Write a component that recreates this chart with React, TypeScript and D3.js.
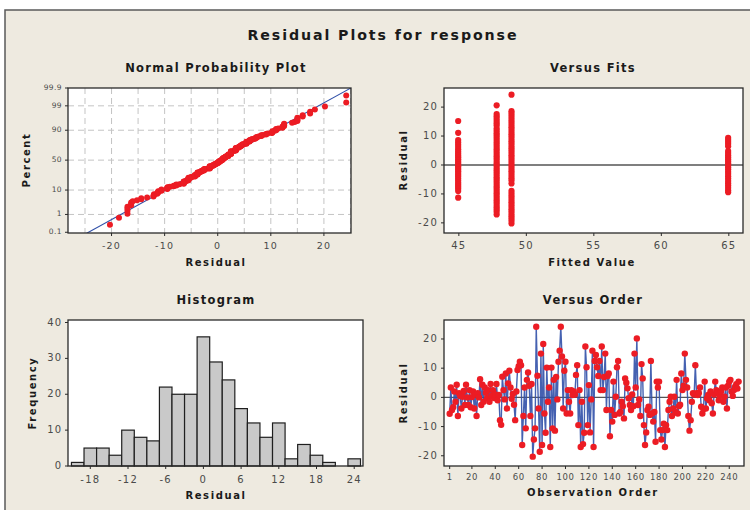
import React from "react";
import * as d3 from "d3";

// Residuals in observation order
const residuals: number[] = [
  -5.6, 3.4, -4.3, -3.4, 2.0, -1.5, 4.3, -6.4, 1.4, 0.5,
  -3.8, 0.2, 2.2, -2.6, 4.3, 0.0, -2.6, 2.5, -3.4, 0.1,
  2.0, -3.8, 1.0, -6.4, 1.4, 0.0, 6.2, -2.6, 4.3, -1.5,
  3.4, 1.6, -0.3, 2.5, -1.5, 4.6, 0.5, 2.5, -0.2, 1.0,
  4.6, -1.0, 0.8, -7.8, -9.4, 7.1,
  2.5, -0.7, 8.2, -3.8, 4.8, 9.1, 3.4, -0.5, 1.2, -2.5,
  -7.8, 2.0, 9.4, 10.7, 12.2, 11.0, -16.3, -6.4, 3.4, -10.6,
  6.0, 8.5, 4.0, -6.4, 4.6, -20.3, -14.4, -10.6, 24.2,
  7.4, -3.8, -18.6, 15.0, -16.3, 18.3, -5.5, -12.1, 10.2, -1.5,
  3.4, -17.0, 10.2, -10.6, 6.0, -11.4, 7.0, -0.7, 12.2, 16.0,
  24.2, 14.0, -3.8, 9.1, 12.2, -5.5, 2.5, -1.5, -5.5, 2.5,
  0.8, 2.0, 1.0, 7.7, 11.0, -9.5, 2.5, -17.0, -1.5, -16.0,
  -12.1, 17.4, 10.3, -9.5, 4.2, -12.0, -0.7, 16.0, -17.0, 12.5,
  14.5, 10.3, 7.3, 12.5, 2.5, 17.4, 2.5, 7.0, 15.0, -4.3,
  7.3, 8.2, -13.3, -4.3, -8.3,
  5.4, -6.0, 0.2, 10.3, 12.5, -5.5, -5.0, -1.5, -3.0, -7.2,
  6.5, 5.0, 3.1, -0.3, -2.6, -4.3, 1.0, -3.0, 15.0, 3.4,
  20.2, -2.6, -0.7, -6.4, 11.4, 6.5, -9.5, -16.3, -12.0, -4.3,
  -3.2, -6.0, 12.5, -5.5, -8.3, -5.0, -15.2, 5.4, 3.4, 5.4,
  -11.2, -14.4, -11.2, -9.0, -17.0, -9.5, -11.2, -4.3, -1.5, 0.2,
  -6.4, -3.8, 0.2, -5.0, 6.0, -5.5, -3.0, -2.5, 8.2, 2.5,
  4.0, 15.0, 6.0, 3.4, -6.4, -11.4, -7.8, -1.5, 1.4, 1.0,
  11.0, 1.4, 0.8, 1.5, 3.4, -3.2, -5.5, -4.0, 5.4, -3.8,
  -0.3, 0.8, -1.0, 2.0, -2.0, -5.5, 1.0, 5.4, 2.5, 1.6,
  -1.0, 0.5, 2.0, 3.4, -1.5, 0.2, 3.4, -3.8, 4.0, 5.4,
  6.0, 2.0, 0.5, 2.5, 3.7, 4.5, 3.0, 5.4,
];

// Residuals grouped by fitted value
const fittedValues = [44.95, 47.8, 48.9, 64.95];
const residAtFit1 = [
  15.2, 11.1, 8.6, 7.8, 7.0, 6.2, 5.4, 4.7, 4.0, 3.3, 2.7, 2.0, 1.4, 0.8, 0.2,
  -0.4, -1.0, -1.6, -2.2, -2.8, -3.4, -4.0, -4.7, -5.4, -6.1, -6.8, -7.5, -8.2, -9.0, -11.3,
];
const residAtFit2 = [
  20.6, 17.6, 16.8, 16.0, 15.2, 14.4, 13.6, 12.6, 11.8, 11.0, 10.2, 9.4, 8.6, 7.8, 7.0,
  6.2, 5.4, 4.6, 3.8, 3.0, 2.2, 1.4, 0.6, -0.2, -1.0, -1.8, -2.6, -3.4, -4.2, -5.0,
  -5.8, -6.6, -7.4, -8.2, -9.0, -9.8, -10.6, -11.4, -12.2, -13.0, -13.8, -14.6, -15.4, -16.2, -17.1,
];
const residAtFit3 = [
  24.3, 18.6, 17.8, 17.0, 16.2, 15.4, 14.6, 13.8, 13.0, 12.2, 11.4, 10.6, 9.8, 9.0, 8.2,
  7.4, 6.6, 5.8, 5.0, 4.2, 3.4, 2.6, 1.8, 1.0, 0.2, -0.6, -1.4, -2.2, -3.0, -3.8,
  -4.6, -5.4, -6.4, -8.9, -9.7, -10.5, -11.3, -12.1, -12.9, -13.7, -14.5, -15.3, -16.1, -16.9, -17.7,
  -18.5, -19.3, -20.2,
];
const residAtFit4 = [
  9.4, 8.7, 8.0, 7.3, 6.5, 4.8, 4.1, 3.4, 2.7, 2.0, 1.3, 0.6, -0.1, -0.8, -1.5,
  -2.3, -3.1, -3.9, -4.7, -5.5, -6.3, -7.1, -7.9, -8.7, -9.4,
];
const residAtFit = [residAtFit1, residAtFit2, residAtFit3, residAtFit4];

// Histogram of residuals: bin midpoints (width 2) and counts
const binMids = [-20, -18, -16, -14, -12, -10, -8, -6, -4, -2, 0, 2, 4, 6, 8, 10, 12, 14, 16, 18, 20, 22, 24];
const binCounts = [1, 5, 5, 3, 10, 8, 7, 22, 20, 20, 36, 29, 24, 16, 12, 8, 12, 2, 6, 3, 1, 0, 2];

// Axis ticks
const probPercentTicks = [0.1, 1, 10, 50, 90, 99, 99.9];
const probPercentGrid = [1, 10, 50, 90, 99];
const probResidTicks = [-20, -10, 0, 10, 20];
const probResidGrid = [-25, -20, -15, -10, -5, 0, 5, 10, 15, 20, 25];
const residTicks = [-20, -10, 0, 10, 20];
const fitTicks = [45, 50, 55, 60, 65];
const histXTicks = [-18, -12, -6, 0, 6, 12, 18, 24];
const histYTicks = [0, 10, 20, 30, 40];
const orderTicks = [1, 20, 40, 60, 80, 100, 120, 140, 160, 180, 200, 220, 240];

// Inverse standard normal CDF (Acklam's rational approximation)
function normInv(p: number): number {
  const a = [-39.69683028665376, 220.9460984245205, -275.9285104469687, 138.357751867269, -30.66479806614716, 2.506628277459239];
  const b = [-54.47609879822406, 161.5858368580409, -155.6989798598866, 66.80131188771972, -13.28068155288572];
  const c = [-0.007784894002430293, -0.3223964580411365, -2.400758277161838, -2.549732539343734, 4.374664141464968, 2.938163982698783];
  const d = [0.007784695709041462, 0.3224671290700398, 2.445134137142996, 3.754408661907416];
  const pl = 0.02425;
  if (p < pl) {
    const q = Math.sqrt(-2 * Math.log(p));
    return (((((c[0] * q + c[1]) * q + c[2]) * q + c[3]) * q + c[4]) * q + c[5]) / ((((d[0] * q + d[1]) * q + d[2]) * q + d[3]) * q + 1);
  }
  if (p > 1 - pl) {
    const q = Math.sqrt(-2 * Math.log(1 - p));
    return -(((((c[0] * q + c[1]) * q + c[2]) * q + c[3]) * q + c[4]) * q + c[5]) / ((((d[0] * q + d[1]) * q + d[2]) * q + d[3]) * q + 1);
  }
  const q = p - 0.5;
  const r = q * q;
  return ((((((a[0] * r + a[1]) * r + a[2]) * r + a[3]) * r + a[4]) * r + a[5]) * q) / (((((b[0] * r + b[1]) * r + b[2]) * r + b[3]) * r + b[4]) * r + 1);
}

const FONT = "'DejaVu Sans', Verdana, sans-serif";
const RED = "#EC1C24";
const BLUE = "#3150A8";
const TICK_COLOR = "#4a4a4a";
const FRAME = "#2a2a2a";
const BG = "#EEEAE0";

type Rect = { x0: number; x1: number; y0: number; y1: number };

const P1: Rect = { x0: 68, x1: 351, y0: 88, y1: 233 };
const P2: Rect = { x0: 444, x1: 743, y0: 88, y1: 233 };
const P3: Rect = { x0: 68, x1: 363, y0: 320, y1: 466 };
const P4: Rect = { x0: 444, x1: 744, y0: 320, y1: 466 };

function PanelTitle({ x, y, text }: { x: number; y: number; text: string }) {
  return (
    <text x={x} y={y} textAnchor="middle" fontFamily={FONT} fontWeight="bold" fontSize={11.5} letterSpacing={1.3} fill="#1a1a1a">
      {text}
    </text>
  );
}

function AxisLabel({ x, y, text, rotate }: { x: number; y: number; text: string; rotate?: boolean }) {
  return (
    <text
      x={x}
      y={y}
      textAnchor="middle"
      dominantBaseline="middle"
      fontFamily={FONT}
      fontWeight="bold"
      fontSize={10}
      letterSpacing={1.6}
      fill="#1a1a1a"
      transform={rotate ? `rotate(-90 ${x} ${y})` : undefined}
    >
      {text}
    </text>
  );
}

function Frame({ r }: { r: Rect }) {
  return <rect x={r.x0} y={r.y0} width={r.x1 - r.x0} height={r.y1 - r.y0} fill="none" stroke={FRAME} strokeWidth={1.3} />;
}

function BottomTicks({ r, xs, labels, scale, fontSize, dy, spacing }: { r: Rect; xs: number[]; labels: string[]; scale: (v: number) => number; fontSize: number; dy: number; spacing: number }) {
  return (
    <g>
      {xs.map((v, i) => (
        <g key={i}>
          <line x1={scale(v)} x2={scale(v)} y1={r.y1} y2={r.y1 + 3} stroke={FRAME} strokeWidth={1} />
          <text x={scale(v)} y={r.y1 + dy} textAnchor="middle" dominantBaseline="middle" fontFamily={FONT} fontSize={fontSize} letterSpacing={spacing} fill={TICK_COLOR}>
            {labels[i]}
          </text>
        </g>
      ))}
    </g>
  );
}

function LeftTicks({ r, ys, labels, scale, fontSize, spacing }: { r: Rect; ys: number[]; labels: string[]; scale: (v: number) => number; fontSize: number; spacing: number }) {
  return (
    <g>
      {ys.map((v, i) => (
        <g key={i}>
          <line x1={r.x0 - 3} x2={r.x0} y1={scale(v)} y2={scale(v)} stroke={FRAME} strokeWidth={1} />
          <text x={r.x0 - 6} y={scale(v)} textAnchor="end" dominantBaseline="middle" fontFamily={FONT} fontSize={fontSize} letterSpacing={spacing} fill={TICK_COLOR}>
            {labels[i]}
          </text>
        </g>
      ))}
    </g>
  );
}

const fmtSigned = (v: number) => (v < 0 ? `-${Math.abs(v)}` : `${v}`);

function NormalPlot() {
  const r = P1;
  const n = residuals.length;
  const sorted = residuals.slice().sort((a, b) => a - b);
  const zLo = normInv(0.0009);
  const zHi = normInv(0.999);
  const x = d3.scaleLinear().domain([-28.2, 25.1]).range([r.x0, r.x1]);
  const y = d3.scaleLinear().domain([zLo, zHi]).range([r.y1, r.y0]);
  const mean = d3.mean(residuals) as number;
  const sd = d3.deviation(residuals) as number;
  const line = d3.line<number>().x((z) => x(mean + sd * z)).y((z) => y(z));
  return (
    <g>
      <rect x={r.x0} y={r.y0} width={r.x1 - r.x0} height={r.y1 - r.y0} fill="#fff" />
      <defs>
        <clipPath id="clip-prob">
          <rect x={r.x0} y={r.y0} width={r.x1 - r.x0} height={r.y1 - r.y0} />
        </clipPath>
      </defs>
      {probResidGrid.map((v) => (
        <line key={`gx${v}`} x1={x(v)} x2={x(v)} y1={r.y0} y2={r.y1} stroke="#c4c4c4" strokeWidth={1} strokeDasharray="6,4" />
      ))}
      {probPercentGrid.map((p) => (
        <line key={`gy${p}`} x1={r.x0} x2={r.x1} y1={y(normInv(p / 100))} y2={y(normInv(p / 100))} stroke="#c4c4c4" strokeWidth={1} strokeDasharray="6,4" />
      ))}
      <g clipPath="url(#clip-prob)">
        <path d={line([zLo - 0.2, zHi + 0.2]) as string} fill="none" stroke={BLUE} strokeWidth={1.1} />
      </g>
      {sorted.map((v, i) => (
        <circle key={i} cx={x(v)} cy={y(normInv((i + 1 - 0.3) / (n + 0.4)))} r={3} fill={RED} />
      ))}
      <Frame r={r} />
      <BottomTicks r={r} xs={probResidTicks} labels={probResidTicks.map(fmtSigned)} scale={x} fontSize={9.5} dy={13} spacing={1.2} />
      <LeftTicks r={r} ys={probPercentTicks.map((p) => normInv(p / 100))} labels={probPercentTicks.map(String)} scale={y} fontSize={7.5} spacing={0.4} />
      <PanelTitle x={216} y={72} text="Normal Probability Plot" />
      <AxisLabel x={216} y={263} text="Residual" />
      <AxisLabel x={27} y={160} text="Percent" rotate />
    </g>
  );
}

function VersusFits() {
  const r = P2;
  const x = d3.scaleLinear().domain([43.9, 66.05]).range([r.x0, r.x1]);
  const y = d3.scaleLinear().domain([-23.5, 26.6]).range([r.y1, r.y0]);
  return (
    <g>
      <rect x={r.x0} y={r.y0} width={r.x1 - r.x0} height={r.y1 - r.y0} fill="#fff" />
      <line x1={r.x0} x2={r.x1} y1={y(0)} y2={y(0)} stroke="#555" strokeWidth={1.3} />
      {residAtFit.map((col, gi) =>
        col.map((v, i) => <circle key={`${gi}-${i}`} cx={x(fittedValues[gi])} cy={y(v)} r={3.1} fill={RED} />)
      )}
      <Frame r={r} />
      <BottomTicks r={r} xs={fitTicks} labels={fitTicks.map(String)} scale={x} fontSize={10} dy={13} spacing={1.2} />
      <LeftTicks r={r} ys={residTicks} labels={residTicks.map(fmtSigned)} scale={y} fontSize={10} spacing={1.2} />
      <PanelTitle x={593} y={72} text="Versus Fits" />
      <AxisLabel x={592} y={263} text="Fitted Value" />
      <AxisLabel x={404} y={160} text="Residual" rotate />
    </g>
  );
}

function Histogram() {
  const r = P3;
  const x = d3.scaleLinear().domain([-21.55, 25.4]).range([r.x0, r.x1]);
  const y = d3.scaleLinear().domain([0, 40.7]).range([r.y1, r.y0]);
  return (
    <g>
      <rect x={r.x0} y={r.y0} width={r.x1 - r.x0} height={r.y1 - r.y0} fill="#fff" />
      {binMids.map((m, i) => (
        <rect
          key={i}
          x={x(m - 1)}
          y={y(binCounts[i])}
          width={x(m + 1) - x(m - 1)}
          height={y(0) - y(binCounts[i])}
          fill="#C9C9C9"
          stroke="#1f1f1f"
          strokeWidth={1.2}
        />
      ))}
      <Frame r={r} />
      <BottomTicks r={r} xs={histXTicks} labels={histXTicks.map(fmtSigned)} scale={x} fontSize={10} dy={14} spacing={1.2} />
      <LeftTicks r={r} ys={histYTicks} labels={histYTicks.map(String)} scale={y} fontSize={10} spacing={1} />
      <PanelTitle x={216} y={304} text="Histogram" />
      <AxisLabel x={216} y={496} text="Residual" />
      <AxisLabel x={33} y={393} text="Frequency" rotate />
    </g>
  );
}

function VersusOrder() {
  const r = P4;
  const x = d3.scaleLinear().domain([-3.85, 252.6]).range([r.x0, r.x1]);
  const y = d3.scaleLinear().domain([-23.5, 26.5]).range([r.y1, r.y0]);
  const line = d3
    .line<number>()
    .x((_, i) => x(i + 1))
    .y((v) => y(v));
  return (
    <g>
      <rect x={r.x0} y={r.y0} width={r.x1 - r.x0} height={r.y1 - r.y0} fill="#fff" />
      <line x1={r.x0} x2={r.x1} y1={y(0)} y2={y(0)} stroke="#555" strokeWidth={1.3} />
      <path d={line(residuals) as string} fill="none" stroke={BLUE} strokeWidth={1.4} strokeOpacity={0.9} />
      {residuals.map((v, i) => (
        <circle key={i} cx={x(i + 1)} cy={y(v)} r={3.2} fill={RED} />
      ))}
      <Frame r={r} />
      <BottomTicks r={r} xs={orderTicks} labels={orderTicks.map(String)} scale={x} fontSize={8.5} dy={11} spacing={0.6} />
      <LeftTicks r={r} ys={residTicks} labels={residTicks.map(fmtSigned)} scale={y} fontSize={10} spacing={1.2} />
      <PanelTitle x={593} y={304} text="Versus Order" />
      <AxisLabel x={593} y={493} text="Observation Order" />
      <AxisLabel x={404} y={393} text="Residual" rotate />
    </g>
  );
}

export default function App() {
  return (
    <div style={{ position: "absolute", left: 0, top: 0 }}>
      <svg width={750} height={510} viewBox="0 0 750 510" style={{ display: "block" }}>
        <rect x={0} y={0} width={750} height={510} fill="#fff" />
        <rect x={5} y={10} width={760} height={520} fill={BG} stroke="#5a5a5a" strokeWidth={1.5} />
        <text x={383} y={40} textAnchor="middle" fontFamily={FONT} fontWeight="bold" fontSize={14.2} letterSpacing={1.9} fill="#1a1a1a">
          Residual Plots for response
        </text>
        <NormalPlot />
        <VersusFits />
        <Histogram />
        <VersusOrder />
      </svg>
    </div>
  );
}
